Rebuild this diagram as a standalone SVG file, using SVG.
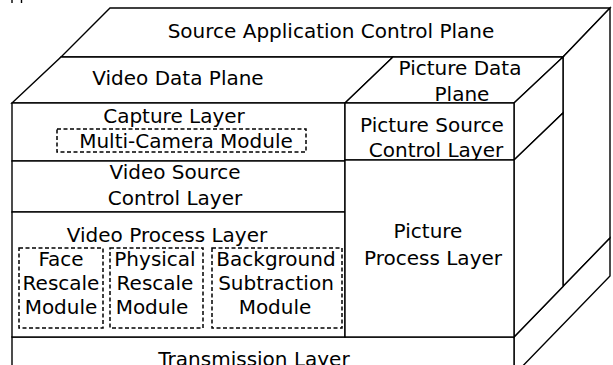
<svg xmlns="http://www.w3.org/2000/svg" width="613" height="365" viewBox="0 0 613 365">
<style>
.f{fill:#fff;stroke:#000;stroke-width:1.4;stroke-linejoin:miter}
.d{fill:none;stroke:#000;stroke-width:1.5;stroke-dasharray:4 2.5}
.t{font-family:"DejaVu Sans","Liberation Sans",sans-serif;font-size:20px;fill:#000;text-anchor:middle}
</style>
<rect width="613" height="365" fill="#fff"/>
<g id="fragment">
<line x1="12" y1="0" x2="12" y2="3" stroke="#000" stroke-width="1.4"/>
<line x1="21.5" y1="0" x2="21.5" y2="3" stroke="#000" stroke-width="1.4"/>
</g>
<g id="source-application-control-plane">
<polygon class="f" points="110,8 610,8 563,57 61,57"/>
<polygon class="f" points="563,57 610,8 610,238 563,286.5"/>
<text class="t" x="331" y="38">Source Application Control Plane</text>
</g>
<g id="transmission-layer">
<polygon class="f" points="514,337 610,238 610,276 514,375"/>
<rect class="f" x="12" y="337" width="502" height="40"/>
<text class="t" x="254" y="366">Transmission Layer</text>
</g>
<g id="video-data-plane">
<polygon class="f" points="12,103 61,57 393,57 345,103"/>
<text class="t" x="178" y="85">Video Data Plane</text>
</g>
<g id="picture-data-plane">
<polygon class="f" points="345,103 393,57 563,57 514,103"/>
<text class="t" x="460" y="75">Picture Data</text>
<text class="t" x="462" y="101">Plane</text>
</g>
<g id="capture-layer">
<rect class="f" x="12" y="103" width="333" height="58"/>
<text class="t" x="174" y="123">Capture Layer</text>
</g>
<g id="multi-camera-module">
<rect class="d" x="57" y="129" width="249" height="23"/>
<text class="t" x="186" y="148">Multi-Camera Module</text>
</g>
<g id="video-source-control-layer">
<rect class="f" x="12" y="161" width="333" height="51"/>
<text class="t" x="175" y="179">Video Source</text>
<text class="t" x="175" y="205">Control Layer</text>
</g>
<g id="video-process-layer">
<rect class="f" x="12" y="212" width="333" height="125"/>
<text class="t" x="167" y="242">Video Process Layer</text>
</g>
<g id="face-rescale-module">
<rect class="d" x="19" y="248" width="84" height="80"/>
<text class="t" x="61" y="266">Face</text>
<text class="t" x="61" y="290">Rescale</text>
<text class="t" x="61" y="314">Module</text>
</g>
<g id="physical-rescale-module">
<rect class="d" x="110" y="248" width="93" height="80"/>
<text class="t" x="155" y="266">Physical</text>
<text class="t" x="155" y="290">Rescale</text>
<text class="t" x="152" y="314">Module</text>
</g>
<g id="background-subtraction-module">
<rect class="d" x="212" y="248" width="130" height="80"/>
<text class="t" x="276" y="266">Background</text>
<text class="t" x="276" y="290">Subtraction</text>
<text class="t" x="275" y="314">Module</text>
</g>
<g id="picture-source-control-layer">
<polygon class="f" points="514,103 563,57 563,113 514,160"/>
<rect class="f" x="345" y="103" width="169" height="57"/>
<text class="t" x="432" y="132">Picture Source</text>
<text class="t" x="436" y="157">Control Layer</text>
</g>
<g id="picture-process-layer">
<polygon class="f" points="514,160 563,113 563,286.5 514,337"/>
<rect class="f" x="345" y="160" width="169" height="177"/>
<text class="t" x="428" y="238">Picture</text>
<text class="t" x="433" y="265">Process Layer</text>
</g>
<g id="connectors"/>
</svg>
